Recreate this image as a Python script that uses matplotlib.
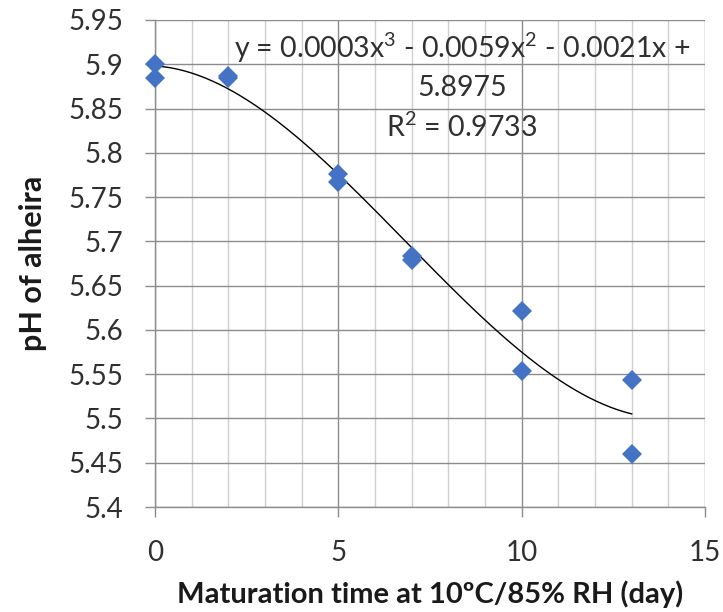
import numpy as np
import matplotlib
matplotlib.use("Agg")
import matplotlib.pyplot as plt
from matplotlib.ticker import MultipleLocator

days = [0, 0, 2, 2, 5, 5, 7, 7, 10, 10, 13, 13]
ph = [5.900, 5.884, 5.887, 5.884, 5.776, 5.767, 5.683, 5.679, 5.621, 5.554, 5.543, 5.460]
x_ticks = [0, 5, 10, 15]
y_ticks = [5.40, 5.45, 5.50, 5.55, 5.60, 5.65, 5.70, 5.75, 5.80, 5.85, 5.90, 5.95]
eq_lines = [r"y = 0.0003x$^{3}$ - 0.0059x$^{2}$ - 0.0021x +", "5.8975", r"R$^{2}$ = 0.9733"]

plt.rcParams['font.family'] = ['Lato', 'DejaVu Sans']
plt.rcParams['mathtext.fontset'] = 'custom'
plt.rcParams['mathtext.rm'] = 'Lato'
plt.rcParams['mathtext.it'] = 'Lato'
plt.rcParams['mathtext.default'] = 'regular'

fig = plt.figure(figsize=(7.23, 6.12), dpi=100)
ax = fig.add_axes([155/723, 1 - 507/612, 550/723, 487/612])

ax.set_xlim(0, 15)
ax.set_ylim(5.4, 5.95)
ax.set_xticks(x_ticks)
ax.set_yticks(y_ticks)
ax.set_yticklabels([f"{v:g}" for v in y_ticks])
ax.xaxis.set_minor_locator(MultipleLocator(1))

ax.grid(True, which='major', color='#8c8c8c', linewidth=1.0)
ax.grid(True, which='minor', axis='x', color='#cfcfcf', linewidth=1.0)
ax.set_axisbelow(True)

for s in ['top', 'right']:
    ax.spines[s].set_visible(False)
for s in ['left', 'bottom']:
    ax.spines[s].set_color('#8c8c8c')
    ax.spines[s].set_linewidth(1.0)

ax.tick_params(axis='both', which='major', labelsize=20, color='#8c8c8c', length=7, width=1, direction='out')
ax.tick_params(axis='x', which='major', pad=17)
ax.tick_params(axis='y', which='major', pad=16)
ax.tick_params(axis='x', which='minor', length=0)
for lbl in ax.get_xticklabels() + ax.get_yticklabels():
    lbl.set_color('#303030')

# trend line (3rd-order polynomial fit)
coef = np.polyfit(days, ph, 3)
xs = np.linspace(0, 13, 200)
ax.plot(xs, np.polyval(coef, xs), color='black', linewidth=1.0, zorder=2)

ax.plot(days, ph, linestyle='none', marker='D', markersize=10,
        color='#4472C4', markeredgewidth=0, zorder=3, clip_on=False)

for t, yv in zip(eq_lines, [5.918, 5.873, 5.829]):
    ax.text(8.37, yv, t, ha='center', va='center', fontsize=20.5, color='#303030')

ax.set_xlabel("Maturation time at 10ºC/85% RH (day)", fontsize=21, fontweight='bold', labelpad=10, color='#1a1a1a')
ax.set_ylabel("pH of alheira", fontsize=22, fontweight='bold', labelpad=15, color='#1a1a1a')

fig.savefig("out.png", dpi=100)
